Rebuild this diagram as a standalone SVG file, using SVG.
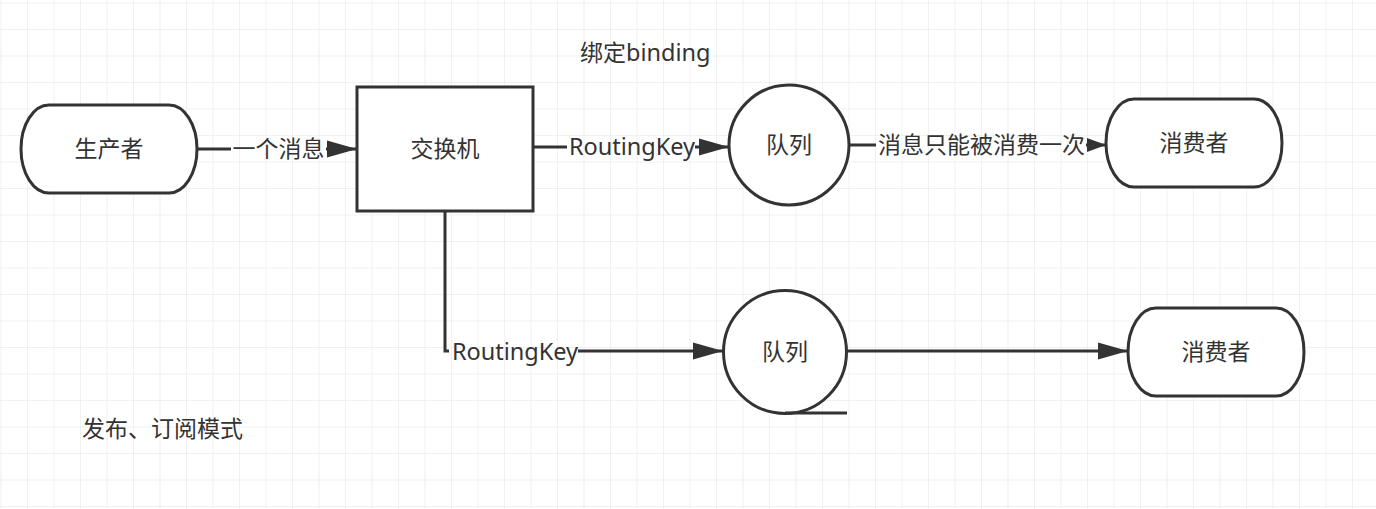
<svg xmlns="http://www.w3.org/2000/svg" width="1376" height="509" viewBox="0 0 1376 509">
  <defs>
    <pattern id="grid" x="1.5" y="3.5" width="26.5" height="26.5" patternUnits="userSpaceOnUse">
      <path d="M26.5,0 V26.5 M0,26.5 H26.5" fill="none" stroke="#e3e3e3" stroke-width="1"/>
    </pattern>
    <marker id="arrow" markerUnits="userSpaceOnUse" markerWidth="30" markerHeight="18" viewBox="0 0 28 16" refX="28" refY="8" orient="auto">
      <path d="M0,0 L28,8 L0,16 Z" fill="#333"/>
    </marker>
    <marker id="arrowS" markerUnits="userSpaceOnUse" markerWidth="20" markerHeight="14" viewBox="0 0 19 14" refX="19" refY="7" orient="auto">
      <path d="M0,0 L19,7 L0,14 Z" fill="#333"/>
    </marker>
    <style>
      .shape { fill: #ffffff; stroke: #333333; stroke-width: 3; }
      .edge { fill: none; stroke: #333333; stroke-width: 3; }
      .lbl { font-family: "Noto Sans", "Noto Sans CJK SC", sans-serif; font-size: 23px; fill: #333333; }
      .lat { font-size: 23.5px; }
      .mid { text-anchor: middle; }
    </style>
  </defs>
  <rect width="1376" height="509" fill="#ffffff"/>
  <rect width="1376" height="509" fill="url(#grid)"/>

  <g id="connectors">
    <path class="edge" d="M197,149 H231"/>
    <path class="edge" d="M326,149 H357" marker-end="url(#arrow)"/>
    <text class="lbl mid" x="278.5" y="157">一个消息</text>

    <path class="edge" d="M533,147 H567"/>
    <path class="edge" d="M695,147 H729" marker-end="url(#arrow)"/>
    <text class="lbl lat mid" x="632" y="155">RoutingKey</text>

    <path class="edge" d="M849,145 H876"/>
    <path class="edge" d="M1086,145 H1106" marker-end="url(#arrowS)"/>
    <text class="lbl mid" x="981.5" y="153">消息只能被消费一次</text>

    <path class="edge" d="M445,211 V351 H449"/>
    <path class="edge" d="M578,351 H723" marker-end="url(#arrow)"/>
    <text class="lbl lat mid" x="515" y="360">RoutingKey</text>

    <path class="edge" d="M847,351 H1128" marker-end="url(#arrow)"/>
  </g>

  <g id="producer">
    <rect class="shape" x="21" y="105" width="176" height="88" rx="28" ry="44"/>
    <text class="lbl mid" x="109" y="157">生产者</text>
  </g>

  <g id="exchange">
    <rect class="shape" x="357" y="87" width="176" height="124"/>
    <text class="lbl mid" x="445" y="157">交换机</text>
  </g>

  <g id="queue1">
    <circle class="shape" cx="789" cy="145" r="60"/>
    <text class="lbl mid" x="789" y="153">队列</text>
  </g>

  <g id="consumer1">
    <rect class="shape" x="1106" y="99" width="176" height="88" rx="28" ry="44"/>
    <text class="lbl mid" x="1194" y="151">消费者</text>
  </g>

  <g id="queue2">
    <circle class="shape" cx="785" cy="352" r="61.5"/>
    <path class="edge" d="M785,413 H847"/>
    <text class="lbl mid" x="785" y="360">队列</text>
  </g>

  <g id="consumer2">
    <rect class="shape" x="1128" y="308" width="176" height="88" rx="28" ry="44"/>
    <text class="lbl mid" x="1216" y="360">消费者</text>
  </g>

  <g id="binding-label">
    <text class="lbl" x="580" y="61">绑定<tspan class="lat">binding</tspan></text>
  </g>

  <g id="title">
    <text class="lbl" x="82" y="437">发布、订阅模式</text>
  </g>
</svg>
